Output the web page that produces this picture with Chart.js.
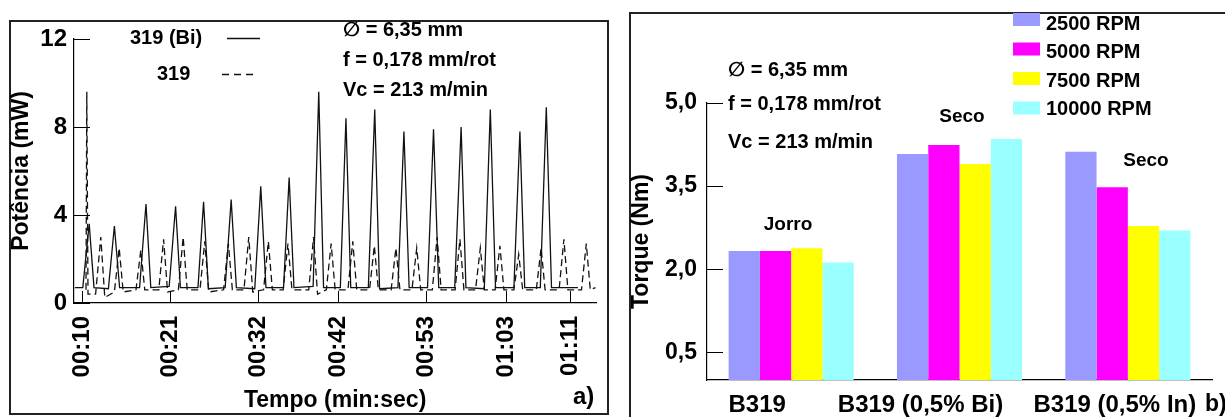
<!DOCTYPE html>
<html lang="pt">
<head>
<meta charset="UTF-8">
<title>Potência e torque - liga B319</title>
<script src="https://cdn.jsdelivr.net/npm/chart.js"></script>
<style>
  html, body { margin: 0; padding: 0; overflow: hidden; background: #fff; }
  body { position: relative; width: 1225px; height: 417px; }
  .frame { position: absolute; border: 2px solid #222; box-sizing: border-box; }
  #frameA { left: 9px; top: 20px; width: 600px; height: 395px; }
  #frameB { left: 629px; top: 12px; width: 700px; height: 500px; }
  canvas { position: absolute; top: 0; }
  #powerChart { left: 0; }
  #torqueChart { left: 612px; }
</style>
</head>
<body>
<div class="frame" id="frameA"></div>
<div class="frame" id="frameB"></div>
<canvas id="powerChart" width="612" height="417"></canvas>
<canvas id="torqueChart" width="613" height="417"></canvas>

<script>
// ---- a) potência x tempo ----
// tempo em segundos
const solidTime = [9.1, 10.1, 10.9, 11.5, 13.3, 14.05, 14.7, 17.2, 18.0, 18.6, 20.9, 21.7, 22.3,
  24.5, 25.2, 25.8, 27.9, 28.65, 29.3, 31.6, 32.35, 33.0, 35.2, 35.9, 36.5, 38.9, 39.6, 40.2,
  42.3, 43.0, 43.6, 45.8, 46.6, 47.2, 49.5, 50.25, 50.9, 53.2, 53.95, 54.6, 56.6, 57.4, 58.0,
  60.3, 61.05, 61.7, 64.0, 64.75, 65.35, 67.3, 68.05, 68.7, 72.0];
const solidPower = [0.7, 0.7, 3.6, 0.7, 0.65, 3.5, 0.7, 0.7, 4.5, 0.7, 0.75, 4.4, 0.7,
  0.7, 4.6, 0.65, 0.7, 4.7, 0.7, 0.65, 5.3, 0.7, 0.7, 5.7, 0.7, 0.75, 9.6, 0.7,
  0.7, 8.4, 0.7, 0.7, 8.8, 0.65, 0.7, 7.8, 0.7, 0.7, 7.9, 0.7, 0.7, 8.0, 0.7,
  0.65, 8.8, 0.7, 0.7, 7.8, 0.7, 0.7, 8.9, 0.7, 0.7];

const dashedTime = [10.5, 10.6, 10.75, 11.7, 12.35, 12.85, 14.05, 14.65, 15.15, 16.75, 17.35, 17.85,
  19.6, 20.2, 20.7, 22.05, 22.65, 23.15, 24.75, 25.35, 25.85, 27.7, 28.3, 28.8, 30.25, 30.85, 31.35,
  32.7, 33.3, 33.8, 35.15, 35.75, 36.25, 38.35, 38.95, 39.45, 40.55, 41.15, 41.65, 43.25, 43.85, 44.35,
  45.95, 46.55, 47.05, 48.65, 49.25, 49.75, 51.25, 51.85, 52.35, 53.8, 54.4, 54.9, 56.65, 57.25, 57.75,
  59.2, 59.8, 60.3, 61.65, 62.25, 62.75, 64.0, 64.6, 65.1, 66.8, 67.4, 67.9, 69.65, 70.25, 70.75,
  72.45, 73.05, 73.55, 74.2];
const dashedPower = [0.6, 9.6, 0.4, 0.4, 3.0, 0.25, 0.5, 2.5, 0.5, 0.6, 2.4, 0.6,
  0.6, 2.9, 0.5, 0.6, 3.0, 0.6, 0.6, 2.8, 0.5, 0.6, 2.7, 0.6, 0.6, 3.0, 0.5,
  0.6, 2.8, 0.6, 0.6, 2.7, 0.6, 0.6, 3.0, 0.4, 0.6, 2.7, 0.6, 0.6, 2.8, 0.6,
  0.6, 2.6, 0.6, 0.6, 2.5, 0.6, 0.6, 2.5, 0.6, 0.6, 3.0, 0.6, 0.6, 2.9, 0.6,
  0.6, 2.5, 0.6, 0.6, 2.6, 0.6, 0.6, 2.2, 0.6, 0.6, 2.5, 0.6, 0.6, 2.9, 0.6,
  0.6, 2.7, 0.6, 0.7];

const timeTicks = [10, 21, 32, 42, 53, 63, 71];
const timeTickLabels = ['00:10', '00:21', '00:32', '00:42', '00:53', '01:03', '01:11'];

// ---- b) torque por liga ----
const alloyLabels = ['B319', 'B319 (0,5% Bi)', 'B319 (0,5% In)'];
const rpmLabels = ['2500 RPM', '5000 RPM', '7500 RPM', '10000 RPM'];
const torque2500 = [2.33, 4.08, 4.12];
const torque5000 = [2.33, 4.24, 3.48];
const torque7500 = [2.38, 3.90, 2.78];
const torque10000 = [2.12, 4.35, 2.70];
const torqueTicks = [0.5, 2.0, 3.5, 5.0];
const torqueTickLabels = ['0,5', '2,0', '3,5', '5,0'];
const lubrication = ['Jorro', 'Seco', 'Seco'];

const cuttingNotes = ['\u2205 = 6,35 mm', 'f = 0,178 mm/rot', 'Vc = 213 m/min'];

const FONT = "'Liberation Sans', Arial, 'DejaVu Sans', sans-serif";
Chart.defaults.font.family = FONT;
Chart.defaults.font.weight = 'bold';
Chart.defaults.color = '#000';

// tick marks drawn inside the plot area
const inwardTicks = {
  id: 'inwardTicks',
  afterDatasetsDraw(chart, args, opts) {
    const { ctx, chartArea } = chart;
    ctx.save();
    ctx.strokeStyle = '#000';
    ctx.lineWidth = 1;
    ctx.beginPath();
    const ys = chart.scales.y;
    ys.ticks.forEach(t => {
      const py = Math.round(ys.getPixelForValue(t.value)) + 0.5;
      ctx.moveTo(chartArea.left, py);
      ctx.lineTo(chartArea.left + opts.y, py);
    });
    if (opts.x) {
      const xs = chart.scales.x;
      xs.ticks.forEach(t => {
        const px = Math.round(xs.getPixelForValue(t.value)) + 0.5;
        ctx.moveTo(px, chartArea.bottom);
        ctx.lineTo(px, chartArea.bottom - opts.x);
      });
    }
    ctx.stroke();
    ctx.restore();
  }
};

const powerExtras = {
  id: 'powerExtras',
  afterDraw(chart) {
    const ctx = chart.ctx;
    ctx.save();
    ctx.fillStyle = '#000';
    ctx.textBaseline = 'middle';
    ctx.textAlign = 'left';
    ctx.font = 'bold 20px ' + FONT;
    // legend: name first, line sample after it
    const rows = [{ x: 130, y: 38, lx: 227 }, { x: 157, y: 74, lx: 222 }];
    chart.data.datasets.forEach((d, i) => {
      const r = rows[i];
      ctx.fillText(d.label, r.x, r.y);
      ctx.beginPath();
      ctx.setLineDash(d.borderDash ? [7, 5] : []);
      ctx.strokeStyle = d.borderColor;
      ctx.lineWidth = d.borderWidth;
      ctx.moveTo(r.lx, r.y + 0.5);
      ctx.lineTo(r.lx + 33, r.y + 0.5);
      ctx.stroke();
    });
    ctx.setLineDash([]);
    const noteY = [30, 60, 90];
    cuttingNotes.forEach((s, i) => ctx.fillText(s, 343, noteY[i]));
    ctx.font = 'bold 24px ' + FONT;
    ctx.fillText('a)', 573, 397);
    ctx.restore();
  }
};

const torqueExtras = {
  id: 'torqueExtras',
  afterDraw(chart) {
    const ctx = chart.ctx;
    const xs = chart.scales.x;
    ctx.save();
    ctx.fillStyle = '#000';
    ctx.textBaseline = 'middle';
    ctx.textAlign = 'left';
    // legend
    ctx.font = 'bold 20px ' + FONT;
    chart.data.datasets.forEach((d, i) => {
      ctx.fillStyle = d.backgroundColor;
      ctx.fillRect(401, 13 + 29.5 * i, 27, 13);
      ctx.fillStyle = '#000';
      ctx.fillText(d.label, 434, 24 + 28.5 * i);
    });
    // cutting conditions
    const noteY = [70, 104, 142];
    cuttingNotes.forEach((s, i) => ctx.fillText(s, 116, noteY[i]));
    // lubrication labels over each group
    ctx.textAlign = 'center';
    ctx.font = 'bold 19px ' + FONT;
    const lubPos = [[176, 225], [350, 117], [534, 161]];
    lubrication.forEach((s, i) => ctx.fillText(s, lubPos[i][0], lubPos[i][1]));
    // category names under the axis
    ctx.font = 'bold 24px ' + FONT;
    const shift = [-34, -39, -13];
    alloyLabels.forEach((s, i) => ctx.fillText(s, xs.getPixelForValue(i) + shift[i], 405));
    ctx.textAlign = 'left';
    ctx.font = 'bold 23px ' + FONT;
    ctx.fillText('b)', 593, 405);
    ctx.restore();
  }
};

new Chart(document.getElementById('powerChart'), {
  type: 'line',
  data: {
    datasets: [
      {
        label: '319 (Bi)',
        data: solidTime.map((t, i) => ({ x: t, y: solidPower[i] })),
        borderColor: '#111', borderWidth: 1.3, pointRadius: 0, tension: 0
      },
      {
        label: '319',
        data: dashedTime.map((t, i) => ({ x: t, y: dashedPower[i] })),
        borderColor: '#111', borderWidth: 1.3, borderDash: [7, 4], pointRadius: 0, tension: 0
      }
    ]
  },
  options: {
    responsive: false,
    animation: false,
    layout: { padding: { left: 0, top: 39, right: 6, bottom: 0 } },
    plugins: { legend: { display: false }, tooltip: { enabled: false }, inwardTicks: { x: 12, y: 16 } },
    scales: {
      x: {
        type: 'linear', min: 9.0, max: 74.3, bounds: 'data',
        afterBuildTicks: s => { s.ticks = timeTicks.map(v => ({ value: v })); },
        afterFit: s => { s.height = 114; },
        grid: { display: false, drawTicks: false },
        border: { display: true, color: '#000', width: 1.2 },
        ticks: {
          autoSkip: false, maxRotation: 90, minRotation: 90, padding: 13,
          font: { size: 24, weight: 'bold' },
          callback: (v, i) => timeTickLabels[i]
        },
        title: { display: true, text: 'Tempo (min:sec)', font: { size: 23, weight: 'bold' }, padding: { top: 0, bottom: 3 } }
      },
      y: {
        min: 0, max: 12,
        afterFit: s => { s.width = 74; },
        grid: { display: false, drawTicks: false },
        border: { display: true, color: '#000', width: 1.2 },
        ticks: { stepSize: 4, padding: 7, font: { size: 24, weight: 'bold' } },
        title: { display: true, text: 'Potência (mW)', font: { size: 23, weight: 'bold' }, padding: { top: 8, bottom: 0 } }
      }
    }
  },
  plugins: [inwardTicks, powerExtras]
});

new Chart(document.getElementById('torqueChart'), {
  type: 'bar',
  data: {
    labels: alloyLabels,
    datasets: [
      { label: rpmLabels[0], data: torque2500, backgroundColor: '#9999ff' },
      { label: rpmLabels[1], data: torque5000, backgroundColor: '#ff00ff' },
      { label: rpmLabels[2], data: torque7500, backgroundColor: '#ffff00' },
      { label: rpmLabels[3], data: torque10000, backgroundColor: '#99ffff' }
    ]
  },
  options: {
    responsive: false,
    animation: false,
    layout: { padding: { left: 0, top: 103, right: 13, bottom: 0 } },
    datasets: { bar: { barPercentage: 1, categoryPercentage: 0.743, borderWidth: 0 } },
    plugins: { legend: { display: false }, tooltip: { enabled: false }, inwardTicks: { y: 16 } },
    scales: {
      x: {
        afterFit: s => { s.height = 37; },
        grid: { display: false, drawTicks: false },
        border: { display: true, color: '#000', width: 1.2 },
        ticks: { display: false }
      },
      y: {
        min: 0, max: 5,
        afterBuildTicks: s => { s.ticks = torqueTicks.map(v => ({ value: v })); },
        afterFit: s => { s.width = 95; },
        grid: { display: false, drawTicks: false },
        border: { display: true, color: '#000', width: 1.2 },
        ticks: { padding: 10, font: { size: 23, weight: 'bold' }, callback: (v, i) => torqueTickLabels[i] },
        title: { display: true, text: 'Torque (Nm)', font: { size: 23, weight: 'bold' }, padding: { top: 16, bottom: 0 } }
      }
    }
  },
  plugins: [inwardTicks, torqueExtras]
});
</script>
</body>
</html>
